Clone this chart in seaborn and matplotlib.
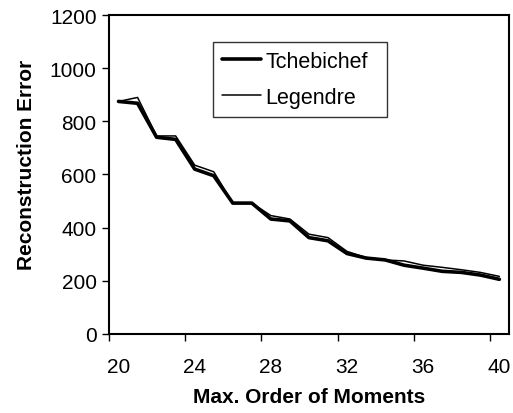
import matplotlib
matplotlib.use("Agg")
import matplotlib.pyplot as plt
import numpy as np
import pandas as pd
import seaborn as sns
from matplotlib.ticker import FixedLocator
from matplotlib.lines import Line2D

# datos
orders = list(range(20, 41))
tchebichef = [875, 868, 740, 732, 620, 595, 492, 492, 432, 425, 362, 350,
              302, 285, 278, 258, 247, 235, 231, 221, 205]
legendre = [875, 890, 745, 745, 635, 610, 492, 492, 445, 432, 375, 362,
            310, 287, 278, 274, 258, 250, 241, 231, 216]
series = ["Tchebichef", "Legendre"]

df = pd.DataFrame({
    "Order": orders * 2,
    "Error": tchebichef + legendre,
    "Metodo": [series[0]] * len(orders) + [series[1]] * len(orders),
})

sns.set_style("white")
plt.rcParams["font.family"] = ["Liberation Sans", "DejaVu Sans"]
plt.rcParams["text.color"] = "black"
plt.rcParams["xtick.color"] = "black"
plt.rcParams["ytick.color"] = "black"
plt.rcParams["axes.labelcolor"] = "black"

fig = plt.figure(figsize=(5.13, 4.14), dpi=100)
ax = fig.add_axes([0.2125, 0.1915, 0.7795, 0.7695])

sns.lineplot(data=df, x="Order", y="Error", hue="Metodo", size="Metodo",
             sizes={"Tchebichef": 2.6, "Legendre": 1.1},
             palette={"Tchebichef": "black", "Legendre": "black"},
             ax=ax, legend=False)

ax.set_xlim(19.5, 40.5)
ax.set_ylim(0, 1200)
ax.set_yticks(np.arange(0, 1201, 200))
# ticks entre categorias, etiquetas en las categorias
ax.xaxis.set_major_locator(FixedLocator(np.arange(19.5, 40, 4)))
ax.set_xticklabels([])
ax.xaxis.set_minor_locator(FixedLocator(np.arange(20, 41, 4)))
ax.set_xticklabels([str(v) for v in range(20, 41, 4)], minor=True)
ax.tick_params(axis="x", which="minor", length=0, labelsize=15, pad=17)
ax.tick_params(axis="x", which="major", length=5, width=1, direction="out", bottom=True)
ax.tick_params(axis="y", length=5, width=1, direction="out", labelsize=15, left=True, pad=4)

for s in ax.spines.values():
    s.set_color("black")
    s.set_linewidth(1.5)

ax.set_xlabel("Max. Order of Moments", fontsize=15, fontweight="bold", labelpad=8)
ax.set_ylabel("Reconstruction Error", fontsize=15, fontweight="bold")
ax.yaxis.set_label_coords(-0.183, 0.532)

handles = [Line2D([], [], color="black", lw=2.6), Line2D([], [], color="black", lw=1.1)]
leg = ax.legend(handles, series, loc="upper left", mode="expand",
                bbox_to_anchor=(0.26, 0.915 - 0.232, 0.435, 0.232),
                fontsize=15.5, frameon=True, fancybox=False, edgecolor="black",
                handlelength=1.85, handletextpad=0.2, labelspacing=0.7, borderpad=0.4,
                borderaxespad=0)
leg.get_frame().set_linewidth(1.0)

fig.savefig("out.png", dpi=100)
